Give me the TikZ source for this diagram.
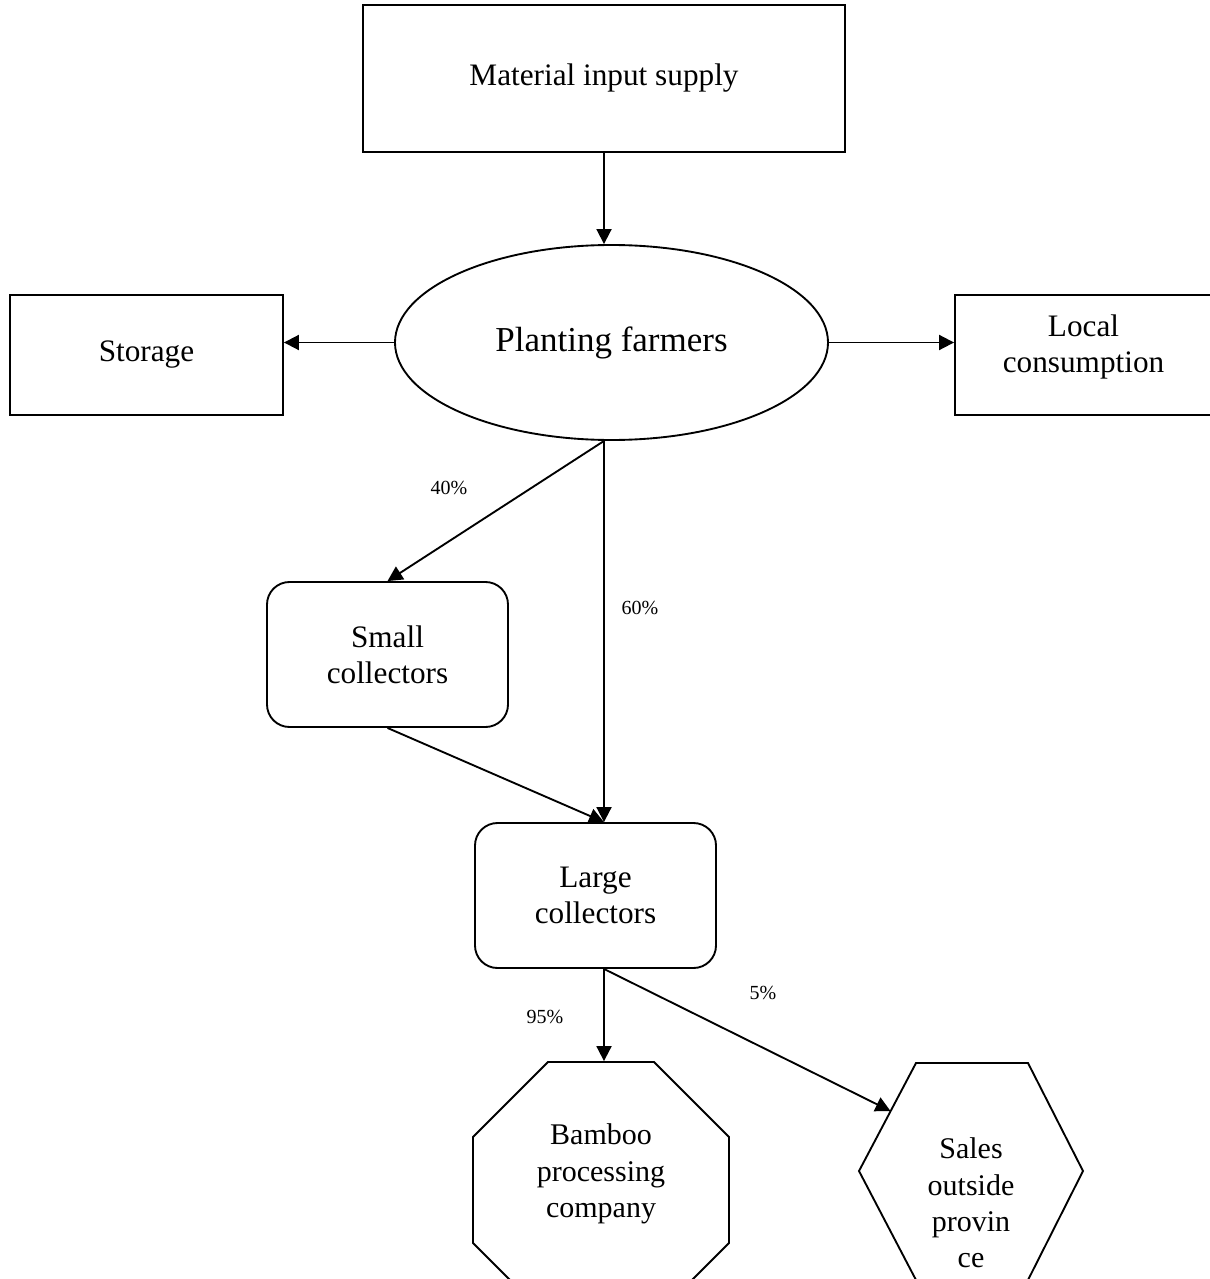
\documentclass[tikz,border=0pt]{standalone}
\usepackage{fontspec}
\setmainfont{Liberation Serif}
\usetikzlibrary{
    arrows.meta,
    shapes.geometric
}
\tikzset{flowbox/.style={draw, rectangle, inner sep=0pt, align=center, font=\fontsize{12.5}{14.5}\selectfont}}
\tikzset{rflowbox/.style={flowbox, rounded corners=9pt, minimum width=96.4pt, minimum height=58pt}}
\tikzset{polytext/.style={align=center, font=\fontsize{12}{14.5}\selectfont}}
\tikzset{pct/.style={font=\fontsize{8}{9}\selectfont}}
\tikzset{flow/.style={-{Triangle[length=6pt, width=6pt]}}}

\begin{document}
\begin{tikzpicture}[x=0.4pt, y=-0.4pt, line width=0.75pt]
                    \useasboundingbox (0, 0) rectangle (1210, 1279);
                    \clip (0, 0) rectangle (1210, 1279);

                    \node[flowbox, minimum width=192.8pt, minimum height=58.8pt] (mat) at (604, 78.5) {Material input supply};
                    \node[draw, ellipse, inner sep=0pt, minimum width=173.2pt, minimum height=78pt, font=\fontsize{14}{16}\selectfont] (plant) at (611.5, 342.5) {Planting farmers};
                    \node[flowbox, minimum width=109.2pt, minimum height=48pt] (stor) at (146.5, 355) {Storage};
                    \node[flowbox, minimum width=102.8pt, minimum height=48pt] (local) at (1083.5, 355) {Local\\consumption\rule[-9pt]{0pt}{0pt}};
                    \node[rflowbox] (small) at (387.5, 654.5) {Small\\collectors};
                    \node[rflowbox] (large) at (595.5, 895.5) {Large\\collectors};

                    \node[draw, regular polygon, regular polygon sides=8, inner sep=0pt, minimum size=110.8pt] (bamboo) at (601, 1190) {};
                    \node[polytext] (bambootxt) at (601, 1174) {Bamboo\\processing\\company};

                    \draw (916, 1063) -- (1028, 1063) -- (1083, 1171) -- (1028, 1280) -- (916, 1280) -- (859, 1171) -- cycle;
                    \coordinate (sales) at (890.5, 1111);
                    \node[polytext] (salestxt) at (971, 1203) {Sales\\outside\\provin\\ce};

                    \coordinate (pfb) at (mat.south |- plant.south);
                    \coordinate (lct) at (pfb |- large.north);
                    \coordinate (lcb) at (pfb |- large.south);

                    \draw
                    (mat.south) edge[flow] (mat.south |- plant.north)
                    (plant.west) edge[flow] (plant.west -| stor.east)
                    (plant.east) edge[flow] (plant.east -| local.west)
                    (pfb) edge[flow] (small.north)
                    (pfb) edge[flow] (lct)
                    (small.south) edge[flow] (lct)
                    (lcb) edge[flow] (lcb |- bamboo.north)
                    (lcb) edge[flow] (sales);

                    \node[pct] (p40) at (449, 488) {40\%};
                    \node[pct] (p60) at (640, 608) {60\%};
                    \node[pct] (p95) at (545, 1017) {95\%};
                    \node[pct] (p5) at (763, 993) {5\%};
                \end{tikzpicture}
\end{document}
